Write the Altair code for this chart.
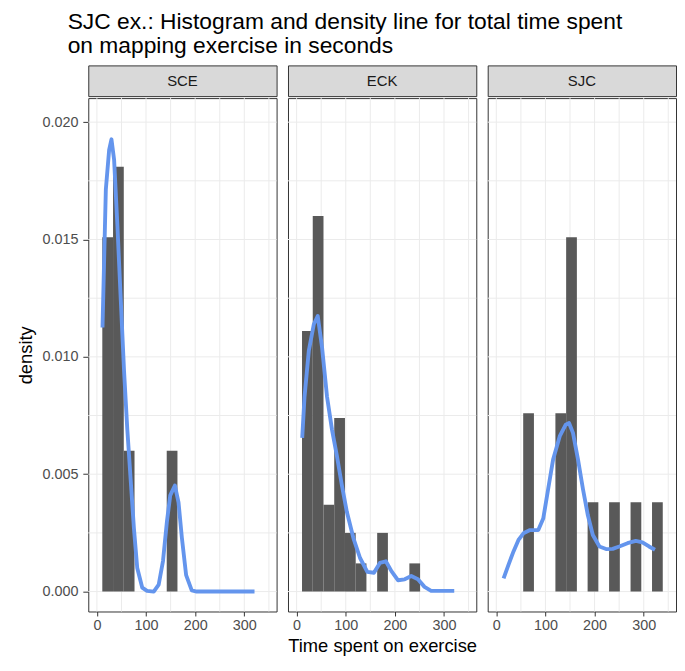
import altair as alt
import pandas as pd

FONT = "Liberation Sans"

# ---- data ----
panels = ["SCE", "ECK", "SJC"]

# histogram bin edges (seconds)
bin_edges = [11.0, 32.85, 54.7, 76.55, 98.4, 120.25, 142.1, 163.95, 185.8,
             207.65, 229.5, 251.35, 273.2, 295.05, 316.9, 338.75]

# non-empty bins per panel (index into bin_edges) and their densities
sce_bins = [0, 1, 2, 6]
sce_hist = [0.0151, 0.0181, 0.0060, 0.0060]
eck_bins = [0, 1, 2, 3, 4, 5, 7, 10]
eck_hist = [0.0111, 0.0160, 0.0037, 0.0074, 0.0025, 0.0012, 0.0025, 0.0012]
sjc_bins = [2, 5, 6, 8, 10, 12, 14]
sjc_hist = [0.0076, 0.0076, 0.0151, 0.0038, 0.0038, 0.0038, 0.0038]

# density curves
sce_dx = [11.4, 18.2, 24.9, 29.6, 35.0, 41.7, 48.4, 55.2, 61.9, 68.6, 75.3, 82.1,
          92.2, 102.0, 115.7, 125.8, 134.5, 142.6, 149.3, 158.7, 166.1, 172.9,
          181.6, 193.0, 203.0, 250.0, 320.8]
sce_dy = [0.01125, 0.01714, 0.01882, 0.01927, 0.0184, 0.0156, 0.01251, 0.00942,
          0.0069, 0.0048, 0.0027, 0.0010, 0.00017, 0.00003, 0.0, 0.0003, 0.0013,
          0.0030, 0.0041, 0.00452, 0.0038, 0.0023, 0.0007, 0.00005, 0.0, 0.0, 0.0]
eck_dx = [11.4, 16.1, 24.9, 35.0, 43.0, 51.8, 61.9, 72.0, 82.0, 92.2, 102.2, 115.7,
          129.1, 143.9, 157.4, 169.5, 181.6, 193.0, 206.5, 220.0, 233.4, 246.9,
          260.3, 273.8, 320.8]
eck_dy = [0.00655, 0.0083, 0.01027, 0.01139, 0.01174, 0.0104, 0.0083, 0.0069,
          0.00578, 0.00452, 0.0034, 0.00227, 0.00143, 0.00084, 0.0008, 0.00122,
          0.00129, 0.00087, 0.00048, 0.00052, 0.00066, 0.00052, 0.0002, 0.00003,
          0.00003]
sjc_dx = [14.8, 24.9, 35.0, 45.1, 55.2, 68.6, 85.4, 95.5, 105.6, 115.7, 129.1,
          141.3, 148.0, 156.0, 166.1, 176.2, 186.3, 196.4, 209.9, 223.3, 236.8,
          250.2, 267.0, 283.9, 297.3, 310.8, 322.9]
sjc_dy = [0.00056, 0.00115, 0.00171, 0.0022, 0.00248, 0.00262, 0.00262, 0.00311,
          0.00438, 0.00564, 0.00662, 0.00711, 0.00718, 0.00676, 0.00564, 0.00438,
          0.00325, 0.00241, 0.00192, 0.00181, 0.00182, 0.00192, 0.00206, 0.00216,
          0.0021, 0.00192, 0.00178]

x_ticks = [0, 100, 200, 300]
x_grid = [0, 50, 100, 150, 200, 250, 300, 350]
y_ticks = [0.0, 0.005, 0.010, 0.015, 0.020]
y_grid = [0.0, 0.0025, 0.005, 0.0075, 0.010, 0.0125, 0.015, 0.0175, 0.020]

hist_sets = {"SCE": (sce_bins, sce_hist), "ECK": (eck_bins, eck_hist), "SJC": (sjc_bins, sjc_hist)}
dens_sets = {"SCE": (sce_dx, sce_dy), "ECK": (eck_dx, eck_dy), "SJC": (sjc_dx, sjc_dy)}

W = 190
H = 518
STRIP_H = 31
xscale = alt.Scale(domain=[-17.55, 365.7], nice=False, zero=False)
yscale = alt.Scale(domain=[-0.00085, 0.021025], nice=False, zero=False)

grid_x_df = pd.DataFrame({"v": x_grid})
grid_y_df = pd.DataFrame({"v": y_grid})


def make_panel(name, show_y, show_xtitle):
    bins, dens = hist_sets[name]
    hdf = pd.DataFrame({
        "x0": [bin_edges[b] for b in bins],
        "x1": [bin_edges[b + 1] for b in bins],
        "density": dens,
    })
    dx, dy = dens_sets[name]
    ldf = pd.DataFrame({"x": dx, "density": dy})

    xtitle = "Time spent on exercise" if show_xtitle else ""
    xaxis = alt.Axis(values=x_ticks, grid=False, domain=False, tickColor="#333333",
                     tickSize=4.5, labelColor="#4D4D4D", labelFontSize=14.5,
                     labelPadding=3, labelFont=FONT,
                     title=xtitle,
                     titleFontSize=18.5, titleFont=FONT, titleColor="#000000",
                     titleFontWeight="normal", titlePadding=4)
    if show_y:
        yaxis = alt.Axis(values=y_ticks, format=".3f", grid=False, domain=False,
                         tickColor="#333333", tickSize=5.5, labelColor="#4D4D4D",
                         labelFontSize=14.5, labelPadding=5, labelFont=FONT,
                         title="density", titleFontSize=18.5, titleFont=FONT,
                         titleColor="#000000", titleFontWeight="normal",
                         titlePadding=7)
    else:
        yaxis = None

    gx = alt.Chart(grid_x_df).mark_rule(color="#EBEBEB", strokeWidth=1).encode(
        x=alt.X("v:Q", scale=xscale, axis=xaxis, title=xtitle))
    gy = alt.Chart(grid_y_df).mark_rule(color="#EBEBEB", strokeWidth=1).encode(
        y=alt.Y("v:Q", scale=yscale, axis=yaxis, title="density"))
    bars = alt.Chart(hdf).mark_rect(color="#595959").encode(
        x=alt.X("x0:Q", scale=xscale, axis=xaxis, title=xtitle),
        x2="x1:Q",
        y=alt.Y("density:Q", scale=yscale, axis=yaxis, title="density"),
        y2=alt.datum(0),
    )
    line = alt.Chart(ldf).mark_line(color="#6495ED", strokeWidth=3.9,
                                    strokeJoin="round", strokeCap="butt").encode(
        x=alt.X("x:Q", scale=xscale, axis=xaxis, title=xtitle),
        y=alt.Y("density:Q", scale=yscale, axis=yaxis, title="density"),
    )
    plot = alt.layer(gx, gy, bars, line).properties(
        width=W, height=H, view=alt.ViewBackground(stroke="#333333", strokeWidth=1))

    strip = alt.Chart(pd.DataFrame({"label": [name]})).mark_text(
        fontSize=15, color="#1A1A1A", font=FONT, baseline="middle", align="center"
    ).encode(
        text="label:N", x=alt.value(W / 2), y=alt.value(STRIP_H / 2)
    ).properties(width=W, height=STRIP_H,
                 view=alt.ViewBackground(fill="#D9D9D9", stroke="#333333"))
    return alt.vconcat(strip, plot, spacing=0)


cols = [make_panel("SCE", True, False), make_panel("ECK", False, True),
        make_panel("SJC", False, False)]

chart = alt.hconcat(*cols, spacing=9.5).properties(
    title=alt.TitleParams(
        text=["SJC ex.: Histogram and density line for total time spent",
              "on mapping exercise in seconds"],
        anchor="start", font=FONT, fontSize=23, fontWeight="normal",
        color="#000000", offset=7, lineHeight=24.4, dx=52.5),
    padding={"left": 7, "top": 0, "right": 0, "bottom": 0},
).configure_view(stroke="#333333", strokeWidth=1).configure(font=FONT)

chart.save("out.html", embed_options={"renderer": "svg", "actions": False})
